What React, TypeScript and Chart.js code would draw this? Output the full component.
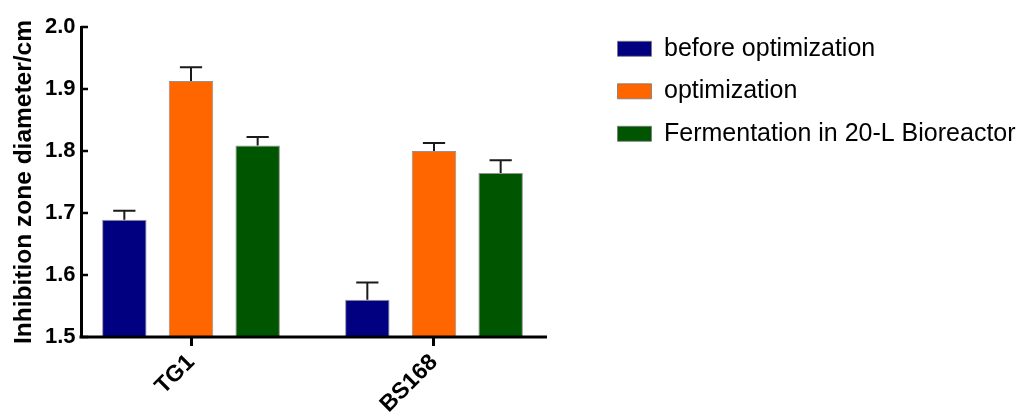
import React, { useEffect, useRef } from "react";
import { Chart, registerables } from "chart.js";

Chart.register(...registerables);

// ---- data ----
const categories = ["TG1", "BS168"];
const seriesNames = ["before optimization", "optimization", "Fermentation in 20-L Bioreactor"];
const beforeValues = [1.689, 1.56];
const beforeErrors = [0.0145, 0.028];
const optimizedValues = [1.913, 1.8];
const optimizedErrors = [0.022, 0.013];
const bioreactorValues = [1.809, 1.7645];
const bioreactorErrors = [0.0135, 0.0205];
const yMin = 1.5;
const yMax = 2.0;
const yStep = 0.1;
const yTitle = "Inhibition zone diameter/cm";

// ---- styles / layout ----
const seriesColors = ["#000080", "#FF6600", "#005500"];
const FONT = "'Liberation Sans', Arial, Helvetica, sans-serif";
const CANVAS_W = 1032;
const CANVAS_H = 412;
const AXIS_LEFT = 81;
const FIRST_CAT_PX = 191;
const PX_PER_CAT = 243;
const AXIS_RIGHT_PX = 547;
const LEGEND_LEFT = 600;
const LEGEND_TOP = 18.8;
const X_MIN = (AXIS_LEFT - FIRST_CAT_PX) / PX_PER_CAT;
const X_MAX = (CANVAS_W - FIRST_CAT_PX) / PX_PER_CAT;
const X_AXIS_END = (AXIS_RIGHT_PX - FIRST_CAT_PX) / PX_PER_CAT;

const seriesValues = [beforeValues, optimizedValues, bioreactorValues];
const seriesErrors = [beforeErrors, optimizedErrors, bioreactorErrors];

const axesAndErrorBars = {
  id: "axesAndErrorBars",
  afterLayout(chart: any) {
    const lg = chart.legend;
    if (lg) {
      const w = lg.width;
      const h = lg.height;
      lg.left = LEGEND_LEFT;
      lg.top = LEGEND_TOP;
      lg.right = LEGEND_LEFT + w;
      lg.bottom = LEGEND_TOP + h;
    }
  },
  afterDatasetsDraw(chart: any) {
    const ctx = chart.ctx;
    const xs = chart.scales.x;
    const ys = chart.scales.y;
    const area = chart.chartArea;
    ctx.save();
    // error bars
    ctx.strokeStyle = "#1a1a1a";
    ctx.lineWidth = 2;
    chart.data.datasets.forEach((ds: any, di: number) => {
      const meta = chart.getDatasetMeta(di);
      meta.data.forEach((el: any, i: number) => {
        const v = seriesValues[di][i];
        const e = seriesErrors[di][i];
        const yTop = ys.getPixelForValue(v + e);
        const capHalf = el.width / 4;
        ctx.beginPath();
        ctx.moveTo(el.x, el.y);
        ctx.lineTo(el.x, yTop);
        ctx.moveTo(el.x - capHalf, yTop);
        ctx.lineTo(el.x + capHalf, yTop);
        ctx.stroke();
      });
    });
    // x axis line
    const yBase = ys.getPixelForValue(yMin);
    ctx.strokeStyle = "#000";
    ctx.lineWidth = 3;
    ctx.beginPath();
    ctx.moveTo(area.left - 1.5, yBase);
    ctx.lineTo(xs.getPixelForValue(X_AXIS_END), yBase);
    ctx.stroke();
    // y tick marks (pointing inward)
    ctx.lineWidth = 2.5;
    ys.ticks.forEach((t: any) => {
      const py = ys.getPixelForValue(t.value);
      ctx.beginPath();
      ctx.moveTo(area.left, py);
      ctx.lineTo(area.left + 7, py);
      ctx.stroke();
    });
    ctx.restore();
  },
};

export default function App() {
  const canvasRef = useRef<HTMLCanvasElement | null>(null);

  useEffect(() => {
    const canvas = canvasRef.current;
    if (!canvas) return;
    Chart.defaults.font.family = FONT;
    const datasets = seriesNames.map((name, di) => ({
      label: name,
      data: categories.map((_, i) => ({ x: i, y: seriesValues[di][i] })),
      backgroundColor: seriesColors[di],
      borderColor: "rgba(120,120,120,0.8)",
      borderWidth: 1,
      barPercentage: 0.667,
      categoryPercentage: 0.823,
    }));

    const chart = new Chart(canvas, {
      type: "bar",
      data: { datasets },
      options: {
        animation: false,
        responsive: false,
        devicePixelRatio: 1,
        layout: { padding: { top: 27, left: 0, right: 0, bottom: 0 } },
        plugins: {
          legend: {
            position: "chartArea",
            align: "start",
            labels: {
              boxWidth: 34,
              boxHeight: 15,
              padding: 17.5,
              color: "#000",
              font: { size: 25, family: FONT },
            },
          },
          tooltip: { enabled: false },
        },
        scales: {
          x: {
            type: "linear",
            bounds: "data",
            offset: false,
            min: X_MIN,
            max: X_MAX,
            afterBuildTicks: (scale: any) => {
              scale.ticks = categories.map((_, i) => ({ value: i }));
            },
            afterFit: (scale: any) => {
              scale.height = 75;
            },
            border: { display: false },
            grid: {
              display: true,
              offset: false,
              drawOnChartArea: false,
              drawTicks: true,
              tickLength: 9,
              color: "#000",
              lineWidth: 3,
            },
            ticks: {
              autoSkip: false,
              minRotation: 45,
              maxRotation: 45,
              padding: 3,
              color: "#000",
              font: { size: 23, weight: "bold", family: FONT },
              callback: (v: any) => categories[Math.round(Number(v))] ?? "",
            },
          },
          y: {
            min: yMin,
            max: yMax,
            afterFit: (scale: any) => {
              scale.width = AXIS_LEFT;
            },
            border: { display: true, color: "#000", width: 3 },
            grid: { display: false, drawTicks: false },
            ticks: {
              stepSize: yStep,
              padding: 5.5,
              color: "#000",
              font: { size: 22, weight: "bold", family: FONT },
              callback: (v: any) => Number(v).toFixed(1),
            },
            title: {
              display: true,
              text: yTitle,
              color: "#000",
              padding: { top: 10, bottom: 0 },
              font: { size: 24.5, weight: "bold", family: FONT },
            },
          },
        },
      },
      plugins: [axesAndErrorBars],
    } as any);

    return () => {
      chart.destroy();
    };
  }, []);

  return (
    <div style={{ position: "absolute", left: 0, top: 0, width: CANVAS_W, height: CANVAS_H, background: "#fff" }}>
      <canvas ref={canvasRef} width={CANVAS_W} height={CANVAS_H} style={{ width: CANVAS_W, height: CANVAS_H }} />
    </div>
  );
}
